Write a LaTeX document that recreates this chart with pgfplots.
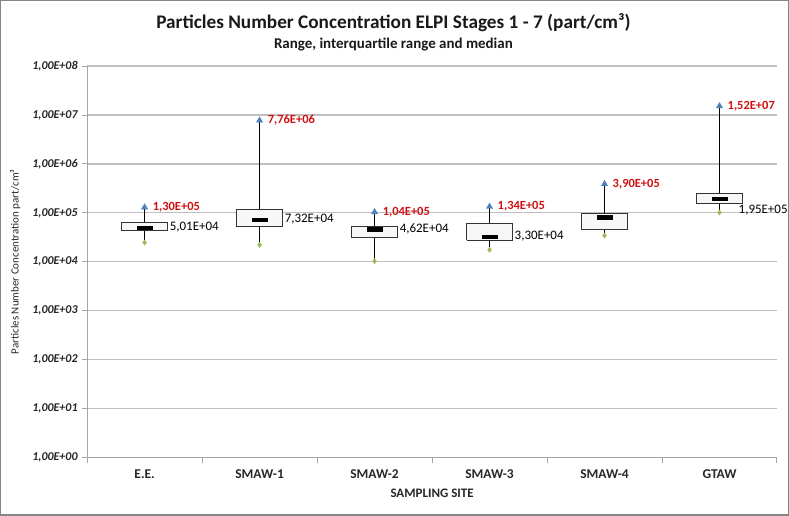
\documentclass[border=0pt]{standalone}
\usepackage{pgfplots}
\usepackage{pgfplotstable}
\pgfplotsset{compat=1.18}
\usepackage{fontspec}
\setmainfont{Carlito}
\definecolor{gridgray}{HTML}{BFBFBF}
\definecolor{axgray}{HTML}{A6A6A6}
\definecolor{bordergray}{HTML}{868686}
\definecolor{maxblue}{HTML}{4F81BD}
\definecolor{mingreen}{HTML}{9BBB59}
\definecolor{labred}{HTML}{D01010}

\pgfplotstableread{
x median q1 q3 min max medlab maxlab
0 5.01e4 4.30e4 6.25e4 2.48e4 1.30e5 5,01E+04 1,30E+05
1 7.32e4 5.18e4 1.19e5 2.22e4 7.76e6 7,32E+04 7,76E+06
2 4.62e4 3.14e4 5.18e4 1.03e4 1.04e5 4,62E+04 1,04E+05
3 3.30e4 2.77e4 6.15e4 1.76e4 1.34e5 3,30E+04 1,34E+05
4 8.19e4 4.50e4 9.84e4 3.44e4 3.90e5 8,19E+04 3,90E+05
5 1.95e5 1.55e5 2.48e5 1.02e5 1.52e7 1,95E+05 1,52E+07
}\data

\begin{document}
\begin{tikzpicture}
\begin{axis}[
  width=689bp, height=391bp, scale only axis,
  ymode=log, ymin=1, ymax=1e8,
  xmin=-0.5, xmax=5.5,
  axis lines=left,
  x axis line style={-, draw=axgray, line width=1.2bp},
  y axis line style={-, draw=axgray, line width=1.2bp},
  ymajorgrids, yminorticks=false,
  grid style={draw=gridgray, line width=1.2bp},
  ytick={1,10,100,1000,10000,100000,1000000,10000000,100000000},
  yticklabels={{1,00E+00},{1,00E+01},{1,00E+02},{1,00E+03},{1,00E+04},{1,00E+05},{1,00E+06},{1,00E+07},{1,00E+08}},
  yticklabel style={font=\fontsize{12}{14}\selectfont\bfseries\itshape, text=black!85, xshift=-1bp},
  ytick style={draw=axgray, line width=1bp},
  tick align=outside, major tick length=5bp,
  xtick={0,1,2,3,4,5},
  xticklabels={E.E.,SMAW-1,SMAW-2,SMAW-3,SMAW-4,GTAW},
  xticklabel style={font=\fontsize{13.5}{15}\selectfont\bfseries, text=black!85, yshift=-4bp},
  major x tick style={draw=none},
  extra x ticks={-0.5,0.5,1.5,2.5,3.5,4.5,5.5},
  extra x tick labels={},
  extra x tick style={major x tick style={draw=axgray, line width=1bp}, grid=none},
  xlabel={SAMPLING SITE},
  xlabel style={font=\fontsize{13}{15}\selectfont\bfseries, text=black!85, at={(axis description cs:0.5,-0.092)}, anchor=center},
  ylabel={Particles Number Concentration part/cm³},
  ylabel style={font=\fontsize{11}{13}\selectfont, text=black!85, at={(axis description cs:-0.104,0.5)}, anchor=center},
  clip=false,
]
% whiskers (min to max)
\addplot[black, line width=0.8bp] coordinates {(0,2.48e4) (0,1.30e5)};
\addplot[black, line width=0.8bp] coordinates {(1,2.22e4) (1,7.76e6)};
\addplot[black, line width=0.8bp] coordinates {(2,1.03e4) (2,1.04e5)};
\addplot[black, line width=0.8bp] coordinates {(3,1.76e4) (3,1.34e5)};
\addplot[black, line width=0.8bp] coordinates {(4,3.44e4) (4,3.90e5)};
\addplot[black, line width=0.8bp] coordinates {(5,1.02e5) (5,1.52e7)};
% interquartile boxes
\addplot[draw=black!80, fill=gray!6, line width=0.9bp] coordinates {(-0.2,4.30e4) (0.2,4.30e4) (0.2,6.25e4) (-0.2,6.25e4) (-0.2,4.30e4)};
\addplot[draw=black!80, fill=gray!6, line width=0.9bp] coordinates {(0.8,5.18e4) (1.2,5.18e4) (1.2,1.19e5) (0.8,1.19e5) (0.8,5.18e4)};
\addplot[draw=black!80, fill=gray!6, line width=0.9bp] coordinates {(1.8,3.14e4) (2.2,3.14e4) (2.2,5.18e4) (1.8,5.18e4) (1.8,3.14e4)};
\addplot[draw=black!80, fill=gray!6, line width=0.9bp] coordinates {(2.8,2.77e4) (3.2,2.77e4) (3.2,6.15e4) (2.8,6.15e4) (2.8,2.77e4)};
\addplot[draw=black!80, fill=gray!6, line width=0.9bp] coordinates {(3.8,4.50e4) (4.2,4.50e4) (4.2,9.84e4) (3.8,9.84e4) (3.8,4.50e4)};
\addplot[draw=black!80, fill=gray!6, line width=0.9bp] coordinates {(4.8,1.55e5) (5.2,1.55e5) (5.2,2.48e5) (4.8,2.48e5) (4.8,1.55e5)};
% medians
\addplot[only marks, mark=square*, mark size=3.5bp, mark options={fill=black, draw=black, line width=0.3bp, xscale=2.2, yscale=0.5}] table[x=x, y=median] {\data};
% minima
\addplot[only marks, mark=diamond*, mark size=2.6bp, mark options={fill=mingreen, draw=mingreen}] table[x=x, y=min] {\data};
% maxima
\addplot[only marks, mark=triangle*, mark size=3.6bp, mark options={fill=maxblue, draw=maxblue}] table[x=x, y=max] {\data};
% max labels
\addplot[only marks, mark=none, nodes near coords, point meta=explicit symbolic,
  every node near coord/.style={anchor=west, xshift=7bp, font=\fontsize{12.5}{14}\selectfont\bfseries, text=labred, inner sep=1bp}]
  table[x=x, y=max, meta=maxlab] {\data};
% median labels
\addplot[only marks, mark=none, nodes near coords, point meta=explicit symbolic, restrict x to domain=0:4,
  every node near coord/.style={anchor=west, xshift=1bp, font=\fontsize{13}{15}\selectfont, text=black, inner sep=1bp}]
  table[x expr=\thisrow{x}+0.2, y=median, meta=medlab] {\data};
\addplot[only marks, mark=none, nodes near coords, point meta=explicit symbolic, restrict x to domain=5:5.5,
  every node near coord/.style={anchor=west, xshift=-5bp, yshift=-11bp, font=\fontsize{13}{15}\selectfont, text=black, inner sep=1bp}]
  table[x expr=\thisrow{x}+0.2, y=median, meta=medlab] {\data};
% titles
\node[font=\fontsize{19.3}{22}\selectfont\bfseries, text=black!90] at (axis description cs:0.444,1.11) {Particles Number Concentration ELPI Stages 1 - 7 (part/cm³)};
\node[font=\fontsize{15}{17}\selectfont\bfseries, text=black!90] at (axis description cs:0.444,1.056) {Range, interquartile range and median};
\coordinate (ll) at (axis description cs:0,0);
\coordinate (ur) at (axis description cs:1,1);
\end{axis}
\draw[bordergray, line width=1.2bp] ([shift={(-86.4bp,-57.4bp)}]ll) rectangle ([shift={(11.4bp,65.4bp)}]ur);
\end{tikzpicture}
\end{document}
